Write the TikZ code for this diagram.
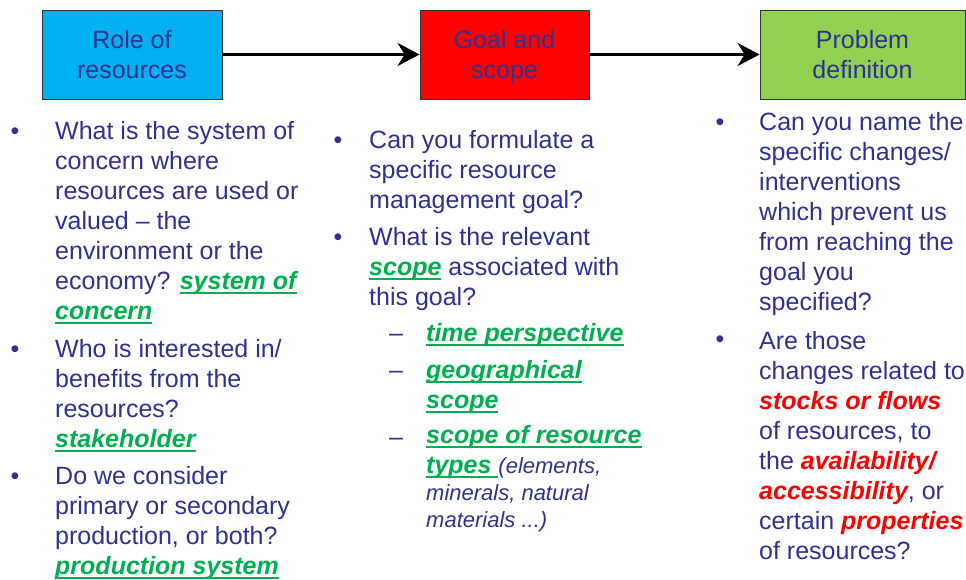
\documentclass[tikz,border=0pt]{standalone}
\usepackage{fontspec}
\setmainfont{Liberation Sans}
\usetikzlibrary{arrows.meta}
\definecolor{navy}{RGB}{46,49,146}
\definecolor{keygreen}{RGB}{0,176,80}
\definecolor{keyred}{RGB}{255,0,0}
\definecolor{rolefill}{RGB}{0,176,240}
\definecolor{goalfill}{RGB}{255,0,0}
\definecolor{probfill}{RGB}{146,208,80}
\definecolor{boxline}{RGB}{50,50,50}
\newcommand\keyline[1]{\setbox0\hbox{#1}\rlap{\rule[-4.5pt]{\wd0}{1.8pt}}\box0}
\newcommand\kw[1]{{\color{keygreen}\bfseries\itshape\keyline{#1}}}
\newcommand\hl[1]{{\color{keyred}\bfseries\itshape #1}}
\newcommand\bigtext{\fontsize{25pt}{30pt}\selectfont}
\newcommand\smalltext{\fontsize{22pt}{27pt}\selectfont\itshape}
\tikzset{
  stage/.style={draw=boxline, line width=0.8pt, minimum height=89pt, inner sep=0pt,
    text depth=0pt, align=center, font=\bigtext, text=navy},
  % items sit on the baseline of their last line
  item/.style={anchor=base west, inner sep=0pt, align=left, font=\bigtext, text=navy},
  dot/.style={anchor=base, inner sep=0pt, font=\bigtext, text=navy},
  flow/.style={line width=3pt, -{Stealth[length=22pt, width=23pt, inset=7pt]}}
}

\begin{document}
\begin{tikzpicture}[x=1pt, y=-1pt]
  \useasboundingbox (0,0) rectangle (966,579);

  % the three stages
  \node[stage, fill=rolefill, minimum width=180pt] (role) at (132,54.5) {Role of\\resources};
  \node[stage, fill=goalfill, minimum width=169pt] (goal) at (504.5,54.5) {Goal and\\scope};
  \node[stage, fill=probfill, minimum width=205pt] (problem) at (862.5,54.5) {Problem\\definition};

  \draw[flow] (role) -- (goal);
  \draw[flow] (goal) -- (problem);

  % role of resources
  \node[dot] (b1) at (15,139) {•};
  \node[item] (q1) at (55,319) {What is the system of\\concern where\\resources are used or\\valued – the\\environment or the\\economy? \kw{system of}\\\kw{concern}};
  \node[dot] (b2) at (15,357) {•};
  \node[item] (q2) at (55,447) {Who is interested in/\\benefits from the\\resources?\\\kw{stakeholder}};
  \node[dot] (b3) at (15,484) {•};
  \node[item] (q3) at (55,574) {Do we consider\\primary or secondary\\production, or both?\\\kw{production system}};

  % goal and scope
  \node[dot] (b4) at (338,148) {•};
  \node[item] (q4) at (369,208) {Can you formulate a\\specific resource\\management goal?};
  \node[dot] (b5) at (338,245) {•};
  \node[item] (q5) at (369,305) {What is the relevant\\\kw{scope} associated with\\this goal?};
  \node[item] (d1) at (389,341) {–};
  \node[item] (s1) at (426,341) {\kw{time perspective}};
  \node[item] (d2) at (389,378) {–};
  \node[item] (s2) at (426,408) {\kw{geographical}\\\kw{scope}};
  \node[item] (d3) at (389,445) {–};
  \node[item] (s3) at (426,527) {\kw{scope of resource}\\\kw{types }{\smalltext(elements,}\\[-3pt]{\smalltext minerals, natural}\\[-3pt]{\smalltext materials ...)}};

  % problem definition
  \node[dot] (b6) at (720,130) {•};
  \node[item] (q6) at (759,310) {Can you name the\\specific changes/\\interventions\\which prevent us\\from reaching the\\goal you\\specified?};
  \node[dot] (b7) at (720,347) {•};
  \node[item] (q7) at (759,559) {Are those\\changes related to\\\hl{stocks or flows}\\of resources, to\\the \hl{availability/}\\\hl{accessibility}, or\\certain \hl{properties}\\of resources?};
\end{tikzpicture}
\end{document}
